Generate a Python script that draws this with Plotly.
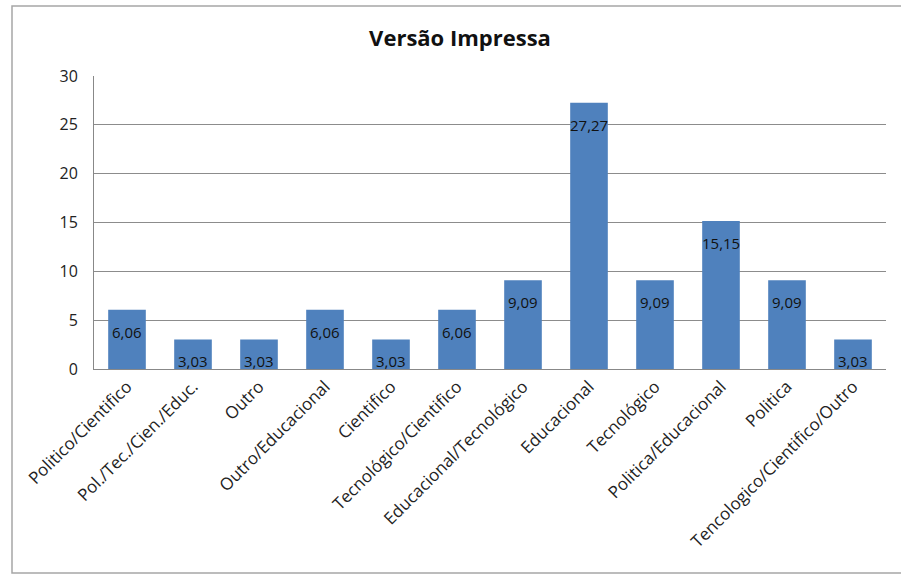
import plotly.graph_objects as go

categories = [
    "Politico/Cientifico",
    "Pol./Tec./Cien./Educ.",
    "Outro",
    "Outro/Educacional",
    "Cientifico",
    "Tecnológico/Cientifico",
    "Educacional/Tecnológico",
    "Educacional",
    "Tecnológico",
    "Politica/Educacional",
    "Politica",
    "Tencologico/Cientifico/Outro",
]
values = [6.06, 3.03, 3.03, 6.06, 3.03, 6.06, 9.09, 27.27, 9.09, 15.15, 9.09, 3.03]
y_ticks = [0, 5, 10, 15, 20, 25, 30]

FONT = "Open Sans, sans-serif"
BAR_COLOR = "#4f81bd"

fig = go.Figure()
fig.add_trace(go.Bar(
    x=categories,
    y=values,
    marker=dict(color=BAR_COLOR, line=dict(width=0)),
    width=0.57,
    hoverinfo="x+y",
))

# value labels just inside the top of each bar
for cat, v in zip(categories, values):
    fig.add_annotation(
        x=cat, y=v, xref="x", yref="y",
        text=f"{v:.2f}".replace(".", ","),
        showarrow=False, yshift=-22,
        font=dict(family=FONT, size=15, color="#111111"),
    )

# outer chart frame
W, H = 901, 574
ml, mr, mt, mb = 94, 15, 76, 205
pw, ph = W - ml - mr, H - mt - mb
fig.add_shape(
    type="rect", xref="paper", yref="paper",
    x0=(12 - ml) / pw, x1=(W + 5 - ml) / pw,
    y0=(H - mb - 573) / ph, y1=(H - mb - 6) / ph,
    line=dict(color="#a6a6a6", width=1.5), fillcolor="rgba(0,0,0,0)",
    layer="below",
)

fig.update_layout(
    width=W, height=H,
    margin=dict(l=ml, r=mr, t=mt, b=mb),
    paper_bgcolor="white", plot_bgcolor="white",
    showlegend=False,
    title=dict(
        text="<b>Versão Impressa</b>",
        x=460 / W, xanchor="center", xref="container",
        y=1 - 38 / H, yanchor="middle", yref="container",
        font=dict(family=FONT, size=22, color="#111111"),
    ),
    bargap=0.43,
)
fig.update_xaxes(
    tickangle=-45,
    tickfont=dict(family=FONT, size=17, color="#222222"),
    showline=True, linecolor="#888888", linewidth=1,
    ticks="", showgrid=False,
)
fig.update_yaxes(
    range=[0, 30],
    tickvals=y_ticks,
    tickfont=dict(family=FONT, size=16, color="#222222"),
    showgrid=True, gridcolor="#8c8c8c", gridwidth=1,
    showline=True, linecolor="#888888", linewidth=1,
    zeroline=False, ticks="", ticklen=0,
    ticklabelstandoff=12,
)

fig.write_html("out.html")
